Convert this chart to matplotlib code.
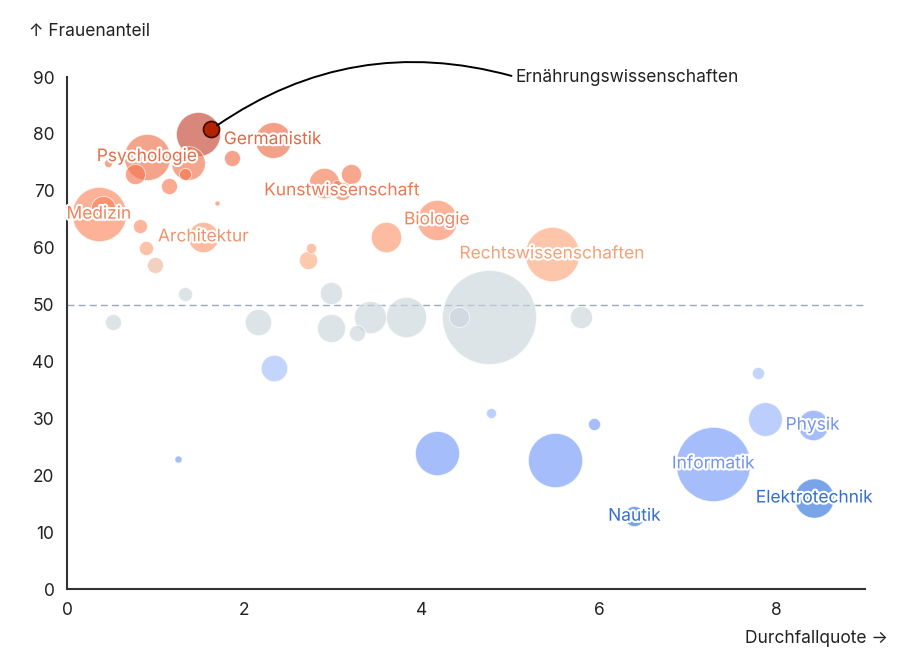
#!/usr/bin/env python3

import numpy as np
import matplotlib
matplotlib.use("Agg")
import matplotlib.pyplot as plt
import matplotlib.patheffects as pe
from matplotlib.colors import LinearSegmentedColormap, Normalize

plt.rcParams['font.family'] = ['Inter', 'DejaVu Sans']

# Studienfaecher: Durchfallquote, Frauenanteil, Studierende
fach = ['Ernährungswissenschaften', '', 'Germanistik', '', 'Psychologie', '', '', '', '', '', '',
        'Medizin', '', '', 'Architektur', '', '', '', '',
        'Kunstwissenschaft', '', '', '', '', 'Biologie', 'Rechtswissenschaften',
        '', '', '', '', '', '', '', '', '', '', '',
        '', '', '', '', '', '', 'Informatik', 'Nautik', '', '', 'Physik', 'Elektrotechnik']
durchfallquote = [1.63, 1.48, 2.32, 1.86, 0.90, 1.36, 0.77, 1.33, 1.15, 0.46, 1.69,
                  0.36, 0.41, 0.82, 1.54, 0.89, 0.99, 2.75, 2.72,
                  3.10, 2.90, 3.20, 3.05, 3.60, 4.17, 5.47,
                  1.33, 0.52, 2.15, 2.98, 2.98, 3.27, 3.42, 3.82, 4.42, 4.76, 5.80,
                  2.33, 1.25, 4.17, 4.78, 5.50, 5.94, 7.29, 6.40, 7.79, 7.87, 8.41, 8.43]
frauenanteil = [80.8, 80.0, 79.0, 75.8, 76.0, 74.9, 73.0, 73.0, 70.8, 74.9, 67.8,
                65.9, 67.0, 63.8, 61.9, 59.9, 57.0, 60.0, 57.8,
                70.0, 71.3, 73.0, 71.0, 61.9, 64.9, 58.9,
                51.8, 46.9, 46.9, 52.0, 45.9, 45.0, 47.8, 47.8, 47.8, 47.8, 47.8,
                38.8, 22.8, 23.9, 30.9, 22.7, 29.0, 22.0, 12.8, 37.9, 29.9, 28.8, 16.0]
studierende = [3500, 26500, 17500, 3500, 29000, 15500, 5500, 2000, 3500, 900, 350,
               40000, 8000, 2700, 12500, 2700, 3500, 1400, 4500,
               4500, 12500, 5500, 1400, 12500, 22000, 40000,
               2700, 3500, 9500, 6700, 10800, 3500, 14000, 22000, 5500, 120000, 6700,
               9500, 700, 26500, 1400, 40000, 2000, 75000, 5500, 2000, 15500, 12500, 21000]
highlight = 'Ernährungswissenschaften'
schwelle = 50

# colour steps along the Frauenanteil axis
farb_stufen = [(10, '#3373dc'), (19, '#3373dc'), (21, '#779af9'), (29.3, '#779af9'),
               (29.6, '#98b5fd'), (40, '#a6c0fd'), (44, '#cbd6dc'), (55, '#cbd6dc'),
               (58, '#fcab80'), (66, '#fc865e'), (79.3, '#eb6d48'), (79.7, '#c34733'),
               (85, '#c34733')]


def main():
    x = np.array(durchfallquote)
    y = np.array(frauenanteil)
    n = np.array(studierende, dtype=float)

    lo, hi = farb_stufen[0][0], farb_stufen[-1][0]
    cmap = LinearSegmentedColormap.from_list(
        'frauen', [((v - lo) / (hi - lo), c) for v, c in farb_stufen])
    norm = Normalize(vmin=lo, vmax=hi)
    radius_px = 47 * np.sqrt(n / n.max())
    sizes = (2 * radius_px * 72 / 100) ** 2

    fig = plt.figure(figsize=(9, 6.5), dpi=100)
    ax = fig.add_axes([0.0744, 0.0938, 0.8866, 0.7877])

    ax.axhline(schwelle, color='#9aaabb', lw=1, ls=(0, (5, 3)), zorder=1)

    order = np.argsort(-n)
    for i in order:
        if fach[i] == highlight:
            continue
        ax.scatter(x[i], y[i], s=sizes[i], color=cmap(norm(y[i])), alpha=0.65,
                   linewidths=0.7, edgecolors='white', zorder=2)

    for i, name in enumerate(fach):
        if name == '' or name == highlight:
            continue
        c = cmap(norm(y[i]))
        c = tuple(0.96 * np.array(c[:3]))
        ax.text(x[i], y[i], name, ha='center', va='center', fontsize=12.5,
                color=c, zorder=4,
                path_effects=[pe.withStroke(linewidth=3, foreground='white')])

    h = fach.index(highlight)
    ax.scatter(x[h], y[h], s=sizes[h], color='#b52200', edgecolors='#3a0c00',
               linewidths=1.2, zorder=5)
    ax.annotate(highlight, xy=(x[h], y[h]), xytext=(5.06, 90),
                ha='left', va='center', fontsize=12.5, color='#222222',
                arrowprops=dict(arrowstyle='-', color='black', lw=1.4,
                                connectionstyle='arc3,rad=0.24',
                                relpos=(0, 0.5), shrinkA=1, shrinkB=5),
                zorder=6, annotation_clip=False)

    ax.set_xlim(0, 9)
    ax.set_ylim(0, 90)
    ax.set_xticks([0, 2, 4, 6, 8])
    ax.set_yticks(range(0, 91, 10))
    ax.tick_params(length=0, labelsize=12.5, colors='#222222', pad=9)
    for side in ('top', 'right'):
        ax.spines[side].set_visible(False)
    for side in ('left', 'bottom'):
        ax.spines[side].set_color('#333333')
        ax.spines[side].set_linewidth(1.5)

    fig.text(0.032, 0.952, '↑ Frauenanteil', ha='left', va='center',
             fontsize=12.5, color='#222222')
    fig.text(0.987, 0.018, 'Durchfallquote →', ha='right', va='center',
             fontsize=12.5, color='#222222')

    plt.savefig('out.png', dpi=100)


if __name__ == '__main__':
    main()
